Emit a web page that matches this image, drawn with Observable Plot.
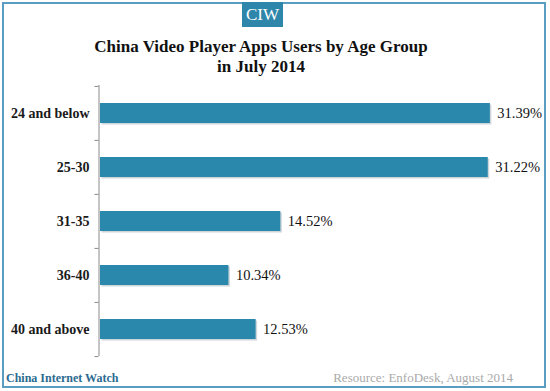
<!DOCTYPE html>
<html>
<head>
<meta charset="utf-8">
<script src="https://cdn.jsdelivr.net/npm/d3@7"></script>
<script src="https://cdn.jsdelivr.net/npm/@observablehq/plot@0.6"></script>
<style>
  html, body { margin: 0; padding: 0; background: #fff; }
  #wrap { position: relative; width: 550px; height: 391px; overflow: hidden; background: #fff; font-family: "Liberation Serif", "DejaVu Serif", serif; }
  #frame { position: absolute; left: 2px; top: 2px; width: 544px; height: 386px; border: 2px solid #5b9dc0; box-sizing: border-box; }
  #badge { position: absolute; left: 242px; top: 2px; width: 41px; height: 25px; background: #2e86ab; color: #fff; font-size: 17px; line-height: 25px; text-align: center; }
  #title { position: absolute; left: 0; top: 37px; width: 522px; text-align: center; font-weight: bold; font-size: 17px; line-height: 20px; color: #111; }
  #chart { position: absolute; left: 0; top: 0; }
  #chart svg text { font-family: "Liberation Serif", serif !important; }
  #foot-left { position: absolute; left: 6px; top: 371px; font-weight: bold; font-size: 12px; color: #2b6b90; }
  #foot-right { position: absolute; right: 37px; top: 370px; font-size: 13px; color: #aaa; }
</style>
</head>
<body>
<div id="wrap">
  <div id="frame"></div>
  <div id="badge">CIW</div>
  <div id="title">China Video Player Apps Users by Age Group<br>in July 2014</div>
  <div id="chart"></div>
  <div id="foot-left">China Internet Watch</div>
  <div id="foot-right">Resource: EnfoDesk, August 2014</div>
</div>
<script>
const categories = ["24 and below", "25-30", "31-35", "36-40", "40 and above"];
const values = [31.39, 31.22, 14.52, 10.34, 12.53];
const valueLabels = ["31.39%", "31.22%", "14.52%", "10.34%", "12.53%"];

const data = categories.map((c, i) => ({ cat: c, value: values[i], label: valueLabels[i] }));

const W = 550, H = 391;
const mTop = 85, mBottom = 35, mLeft = 100;
const xMax = 35;
const pxPerUnit = 12.42;
const mRight = W - mLeft - xMax * pxPerUnit;
const step = (H - mTop - mBottom) / categories.length;

const chart = Plot.plot({
  width: W,
  height: H,
  marginTop: mTop,
  marginBottom: mBottom,
  marginLeft: mLeft,
  marginRight: mRight,
  style: "background: transparent; font-family: 'Liberation Serif', serif; overflow: visible;",
  x: { domain: [0, xMax], axis: null },
  y: { domain: categories, paddingInner: 0.63, paddingOuter: 0.315, label: null },
  marks: [
    Plot.axisY({ tickSize: 0, tickPadding: 11, fontSize: 14, fontWeight: "bold", fill: "#1a1a1a", fontFamily: "Liberation Serif" }),
    // axis line
    Plot.ruleX([0], { stroke: "#8a8a8a", strokeWidth: 1, dx: -1.5 }),
    // ticks at band boundaries
    Plot.ruleY(data, { y: "cat", x1: -0.45, x2: -0.12, dy: -step / 2, stroke: "#8a8a8a" }),
    Plot.ruleY(data.slice(-1), { y: "cat", x1: -0.45, x2: -0.12, dy: step / 2, stroke: "#8a8a8a" }),
    // shadow
    Plot.barX(data, { y: "cat", x: "value", fill: "#cfd6da", dx: 1.5, dy: 1.5 }),
    Plot.barX(data, { y: "cat", x: "value", fill: "#2a88ad" }),
    Plot.text(data, { y: "cat", x: "value", text: "label", textAnchor: "start", dx: 7, fontSize: 14.5, fill: "#111", fontFamily: "Liberation Serif" })
  ]
});
document.getElementById("chart").appendChild(chart);
</script>
</body>
</html>
